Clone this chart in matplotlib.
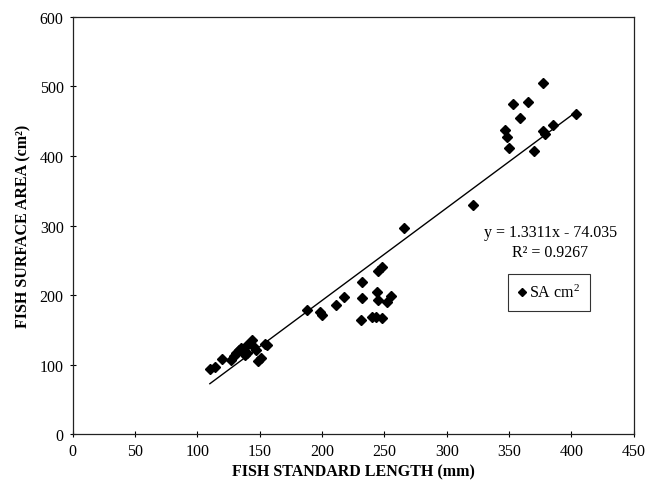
import numpy as np
import matplotlib
matplotlib.use("Agg")
import matplotlib.pyplot as plt

# fish standard length (mm) vs surface area (cm2)
length_mm = [110, 114, 120, 127, 129, 131, 133, 135, 137, 138,
             140, 140, 142, 144, 145, 147, 149, 151, 154, 156,
             188, 198, 200, 211, 218, 232, 232, 231, 240, 243,
             248, 244, 245, 245, 248, 252, 255, 266,
             321, 347, 348, 350, 353, 359, 365, 370, 377, 377,
             379, 385, 404]
area_cm2 = [94, 97, 108, 106, 112, 117, 121, 124, 119, 113,
            116, 128, 131, 135, 126, 121, 105, 109, 130, 128,
            178, 175, 171, 186, 197, 218, 195, 164, 168, 168,
            167, 204, 193, 235, 241, 190, 198, 297,
            329, 438, 428, 412, 475, 454, 477, 407, 505, 436,
            432, 444, 461]

slope = 1.3311
intercept = -74.035
r2 = 0.9267

x_ticks = [0, 50, 100, 150, 200, 250, 300, 350, 400, 450]
y_ticks = [0, 100, 200, 300, 400, 500, 600]

plt.rcParams["font.family"] = ["Liberation Serif", "DejaVu Serif"]
plt.rcParams["mathtext.fontset"] = "custom"
plt.rcParams["mathtext.rm"] = "Liberation Serif"

fig = plt.figure(figsize=(6.48, 4.89), dpi=100)
ax = fig.add_axes([0.1122, 0.1104, 0.8658, 0.8528])

ax.plot(length_mm, area_cm2, linestyle="none", marker="D", ms=4.8,
        color="black", label=r"SA cm$\mathregular{^2}$", zorder=3)

# linear trendline over the data range
xl = np.array([min(length_mm), max(length_mm)])
ax.plot(xl, slope * xl + intercept, color="black", lw=1.0, zorder=2)

ax.set_xlim(0, 450)
ax.set_ylim(0, 600)
ax.set_xticks(x_ticks)
ax.set_yticks(y_ticks)
ax.tick_params(direction="inout", length=5, width=0.8, labelsize=11.5,
               colors="black", pad=4)
for s in ax.spines.values():
    s.set_linewidth(0.9)
    s.set_color("#222222")

ax.set_xlabel("FISH STANDARD LENGTH (mm)", fontsize=11.5, fontweight="bold",
              labelpad=3)
ax.set_ylabel("FISH SURFACE AREA (cm\u00b2)", fontsize=11.5, fontweight="bold",
              labelpad=6)

# trendline label
ax.text(383, 290, f"y = {slope}x - {abs(intercept):.3f}", ha="center",
        va="center", fontsize=11.5)
ax.text(383, 262, f"R\u00b2 = {r2}", ha="center", va="center", fontsize=11.5)

leg = ax.legend(loc="center", bbox_to_anchor=(0.849, 0.339), frameon=True,
                fancybox=False, edgecolor="black", fontsize=11.5,
                handlelength=0.5, handletextpad=0.2, borderpad=0.6,
                markerscale=0.85)
leg.get_frame().set_linewidth(0.8)

fig.savefig("out.png", dpi=100)
